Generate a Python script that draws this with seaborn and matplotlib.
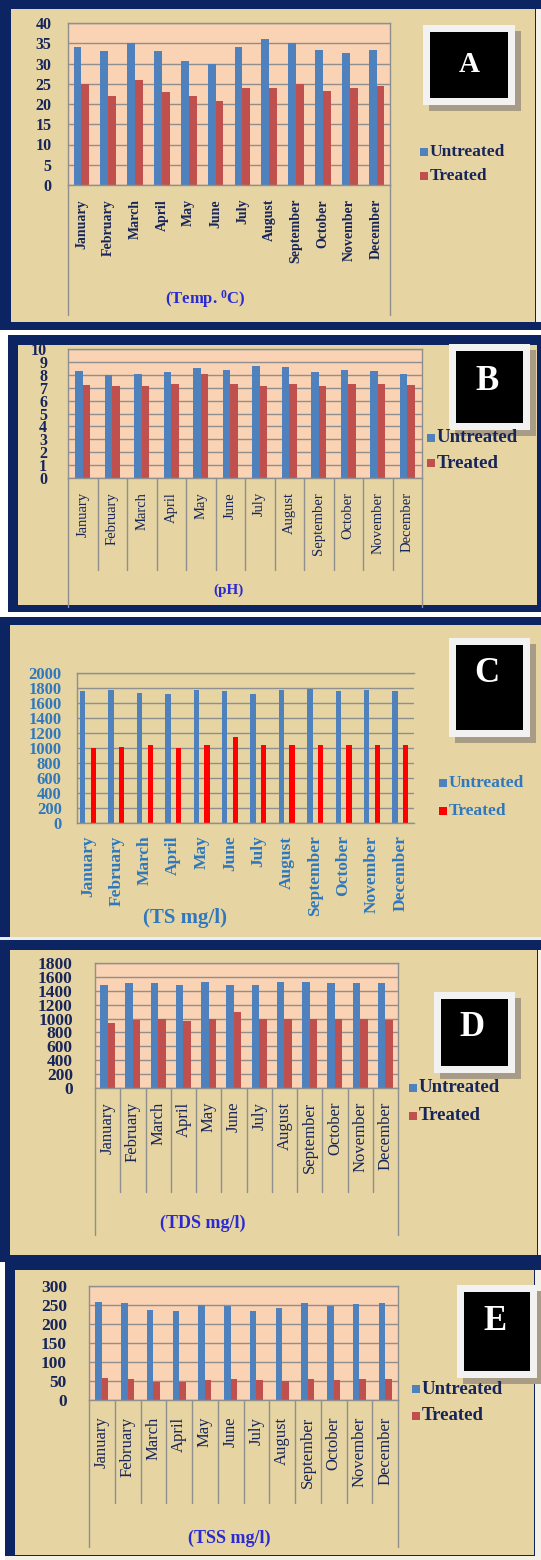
import numpy as np
import pandas as pd
import matplotlib
matplotlib.use("Agg")
import matplotlib.pyplot as plt
from matplotlib.patches import Rectangle
from matplotlib.lines import Line2D
import seaborn as sns

# ---- data -------------------------------------------------------------
months = ["January", "February", "March", "April", "May", "June", "July",
          "August", "September", "October", "November", "December"]
series_names = ["Untreated", "Treated"]

temp_untreated = [34, 33, 35, 33, 30.7, 30, 34, 36, 35, 33.4, 32.6, 33.4]
temp_treated = [25, 22, 26, 23, 22, 20.8, 24, 24, 25, 23.2, 24, 24.4]

ph_untreated = [8.3, 8.0, 8.1, 8.2, 8.5, 8.4, 8.7, 8.6, 8.2, 8.4, 8.3, 8.1]
ph_treated = [7.2, 7.1, 7.1, 7.3, 8.1, 7.3, 7.1, 7.3, 7.1, 7.3, 7.3, 7.2]

ts_untreated = [1755, 1775, 1740, 1715, 1770, 1755, 1725, 1775, 1790, 1755, 1775, 1755]
ts_treated = [1000, 1020, 1040, 1000, 1040, 1150, 1040, 1040, 1040, 1040, 1040, 1040]

tds_untreated = [1490, 1505, 1505, 1480, 1525, 1490, 1490, 1525, 1525, 1505, 1505, 1505]
tds_treated = [940, 980, 1000, 960, 1000, 1090, 1000, 1000, 990, 990, 1000, 980]

tss_untreated = [258, 255, 238, 233, 250, 247, 233, 243, 254, 247, 252, 255]
tss_treated = [58, 54, 47, 47, 53, 54, 53, 49, 54, 53, 54, 54]

# ---- styling ----------------------------------------------------------
sns.set_style("white")
plt.rcParams["font.family"] = ["Liberation Serif", "DejaVu Serif"]
plt.rcParams["font.weight"] = "bold"
plt.rcParams["mathtext.fontset"] = "custom"
plt.rcParams["mathtext.rm"] = "Liberation Serif:bold"
plt.rcParams["mathtext.bf"] = "Liberation Serif:bold"
plt.rcParams["mathtext.it"] = "Liberation Serif:bold:italic"

NAVY_FRAME = "#0D2462"
PAPYRUS = "#E6D4A2"
PEACH = "#F9D3B3"
GRID = "#8F8F8F"
NAVY_TEXT = "#17255A"
TITLE_BLUE = "#2A2AD4"
STEEL = "#2F78BE"
BAR_BLUE = "#4F81BD"
BAR_RED = "#C0504D"
PURE_RED = "#FF0000"

W, H = 541, 1560
fig = plt.figure(figsize=(W / 100, H / 100), dpi=100, facecolor="white")


def rect(x0, y0, x1, y1, color, z=-10):
    fig.add_artist(Rectangle((x0 / W, 1 - y1 / H), (x1 - x0) / W, (y1 - y0) / H,
                             transform=fig.transFigure, facecolor=color,
                             edgecolor="none", zorder=z))


def text(x, y, s, **kw):
    fig.text(x / W, 1 - y / H, s, **kw)


def label_box(x0, y0, x1, y1, letter, lx, ly, size):
    rect(x0 + 6, y0 + 6, x1 + 6, y1 + 6, "#A89C86", z=1)
    rect(x0, y0, x1, y1, "#F2F2F2", z=2)
    rect(x0 + 7, y0 + 7, x1 - 7, y1 - 7, "black", z=3)
    text(lx, ly, letter, color="white", fontsize=size, fontweight="bold",
         ha="center", va="center", zorder=4)


def legend(x, y1, y2, colors, color, size):
    for yy, c, name in zip((y1, y2), colors, series_names):
        rect(x, yy - 4, x + 8, yy + 4, c, z=2)
        text(x + 10, yy, name, color=color, fontsize=size, fontweight="bold",
             ha="left", va="center", zorder=3)


def panel(plot, values_u, values_t, colors, ylim, ystep, width, gap,
          ytick_size, ytick_pad, ytick_color, xlab_size, xlab_weight,
          xlab_color, xlab_pad, face=PEACH, xlim=(-0.5, 11.5),
          inner_depth=None, outer_depth=None, right_spine=True):
    x0, y0, x1, y1 = plot
    ax = fig.add_axes([x0 / W, 1 - y1 / H, (x1 - x0) / W, (y1 - y0) / H])
    df = pd.DataFrame({
        "Month": months * 2,
        "Series": [series_names[0]] * 12 + [series_names[1]] * 12,
        "Value": list(values_u) + list(values_t),
    })
    sns.barplot(data=df, x="Month", y="Value", hue="Series",
                hue_order=series_names, order=months,
                palette=dict(zip(series_names, colors)), saturation=1,
                width=width, gap=gap, errorbar=None, legend=False,
                linewidth=0, ax=ax)
    if face is None:
        ax.set_facecolor("none")
    else:
        ax.set_facecolor(face)
    ax.set_xlim(*xlim)
    ax.set_ylim(*ylim)
    ax.set_yticks(np.arange(ylim[0], ylim[1] + ystep / 2, ystep))
    ax.set_axisbelow(True)
    ax.yaxis.grid(True, color=GRID, lw=1.0)
    ax.xaxis.grid(False)
    for name, sp in ax.spines.items():
        sp.set_color(GRID)
        sp.set_linewidth(1.0)
    ax.spines["right"].set_visible(right_spine)
    ax.set_xlabel("")
    ax.set_ylabel("")
    ax.tick_params(axis="y", length=0, pad=ytick_pad, labelsize=ytick_size,
                   labelcolor=ytick_color)
    ax.tick_params(axis="x", length=0, pad=xlab_pad, labelsize=xlab_size,
                   labelcolor=xlab_color, labelrotation=90)
    for t in ax.get_yticklabels():
        t.set_fontweight("bold")
    for t in ax.get_xticklabels():
        t.set_fontweight(xlab_weight)
    tr = ax.get_xaxis_transform()
    if inner_depth is not None:
        for i in range(11):
            ax.add_line(Line2D([i + 0.5, i + 0.5], [0, -inner_depth], transform=tr,
                               color=GRID, lw=1.0, clip_on=False))
    if outer_depth is not None:
        for xv in xlim:
            ax.add_line(Line2D([xv, xv], [0, -outer_depth], transform=tr,
                               color=GRID, lw=1.0, clip_on=False))
    return ax


# ---- panel A : temperature -------------------------------------------
rect(0, 0, 541, 330, NAVY_FRAME)
rect(11, 9, 535, 322, PAPYRUS)
rect(536, 9, 541, 322, "#F4F1E8")
panel((68, 23, 390, 185), temp_untreated, temp_treated, (BAR_BLUE, BAR_RED),
      (0, 40), 5, 0.58, 0, 11.5, 12, NAVY_TEXT, 10, "bold", NAVY_TEXT, 10,
      outer_depth=0.80)
text(205, 299, r"(Temp. $^{0}$C)", color=TITLE_BLUE, fontsize=12,
     fontweight="bold", ha="center", va="center")
label_box(423, 25, 515, 105, "A", 469, 65, 21)
legend(420, 152, 176, (BAR_BLUE, BAR_RED), NAVY_TEXT, 12.5)

# ---- panel B : pH -----------------------------------------------------
rect(8, 335, 541, 612, NAVY_FRAME)
rect(18, 345, 537, 605, PAPYRUS)
panel((68, 349, 422, 478), ph_untreated, ph_treated, (BAR_BLUE, BAR_RED),
      (0, 10), 1, 0.52, 0, 11.5, 15, NAVY_TEXT, 10.5, "normal", NAVY_TEXT, 10,
      inner_depth=0.713, outer_depth=1.0)
text(228, 590, "(pH)", color=TITLE_BLUE, fontsize=11, fontweight="bold",
     ha="center", va="center")
label_box(449, 344, 530, 430, "B", 487, 382, 25)
legend(427, 438, 463, (BAR_BLUE, BAR_RED), NAVY_TEXT, 13.5)

# ---- panel C : total solids ------------------------------------------
rect(0, 617, 541, 945, NAVY_FRAME)
rect(10, 625, 541, 937, PAPYRUS)
rect(0, 937, 541, 940, "#E8EEF6")
panel((77, 673, 414, 823), ts_untreated, ts_treated, (BAR_BLUE, PURE_RED),
      (0, 2000), 200, 0.75, 0.5, 12, 11, STEEL, 12.5, "bold", STEEL, 9,
      face=None, xlim=(-0.39, 11.48), right_spine=False)
text(185, 918, "(TS mg/l)", color=STEEL, fontsize=15, fontweight="bold",
     ha="center", va="center")
label_box(449, 638, 530, 737, "C", 487, 673, 25)
legend(439, 783, 811, (BAR_BLUE, PURE_RED), STEEL, 12.5)

# ---- panel D : total dissolved solids --------------------------------
rect(0, 940, 541, 1262, NAVY_FRAME)
rect(10, 950, 537, 1255, PAPYRUS)
rect(538, 950, 541, 1255, "#F4F1E8")
panel((95, 963, 398, 1088), tds_untreated, tds_treated, (BAR_BLUE, BAR_RED),
      (0, 1800), 200, 0.6, 0, 12.5, 16, NAVY_TEXT, 12, "normal", NAVY_TEXT, 10,
      inner_depth=0.832, outer_depth=1.176)
text(203, 1223, "(TDS mg/l)", color=TITLE_BLUE, fontsize=13, fontweight="bold",
     ha="center", va="center")
label_box(434, 992, 515, 1073, "D", 472, 1028, 25)
legend(409, 1088, 1116, (BAR_BLUE, BAR_RED), NAVY_TEXT, 13.5)

# ---- panel E : total suspended solids --------------------------------
rect(5, 1262, 541, 1560, NAVY_FRAME)
rect(15, 1270, 534, 1555, PAPYRUS)
rect(535, 1270, 541, 1560, "#F4F1E8")
rect(5, 1556, 541, 1560, "#F4F1E8")
panel((89, 1286, 398, 1400), tss_untreated, tss_treated, (BAR_BLUE, BAR_RED),
      (0, 300), 50, 0.5, 0, 12.5, 16, NAVY_TEXT, 12, "normal", NAVY_TEXT, 12,
      inner_depth=0.904, outer_depth=1.29)
text(229, 1538, "(TSS mg/l)", color=TITLE_BLUE, fontsize=13, fontweight="bold",
     ha="center", va="center")
label_box(457, 1285, 537, 1378, "E", 495, 1321, 25)
legend(412, 1389, 1416, (BAR_BLUE, BAR_RED), NAVY_TEXT, 13.5)

fig.savefig("out.png", dpi=100, facecolor="white")
